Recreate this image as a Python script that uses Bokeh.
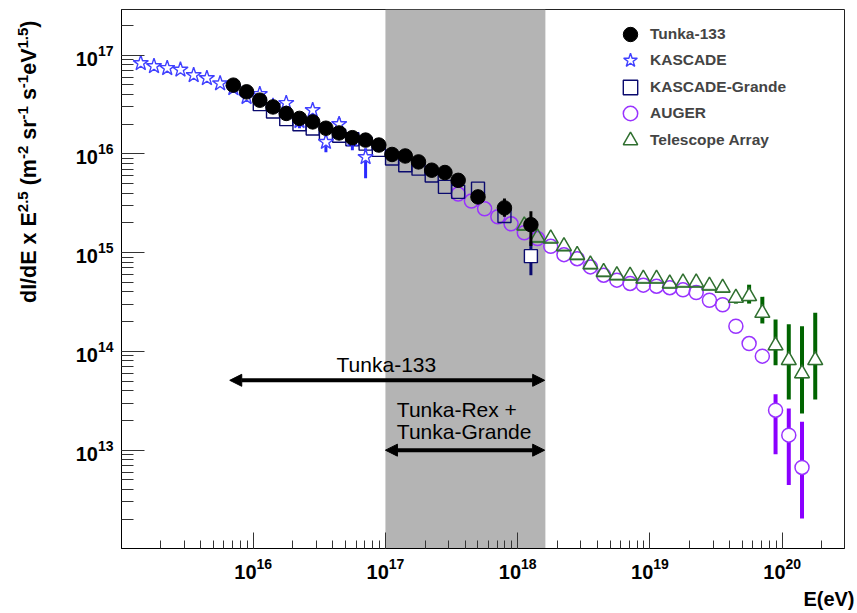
from bokeh.plotting import figure
from bokeh.models import (BoxAnnotation, Label, Arrow, NormalHead, Legend,
                          LegendItem, ColumnDataSource, LogTicker, Div, Title)
from bokeh.layouts import row
from bokeh.embed import file_html
from bokeh.resources import INLINE

# ---------------- data (log10 E in eV, flux dI/dE x E^2.5) ----------------
tunka_lgE = [15.85, 15.95, 16.05, 16.15, 16.25, 16.35, 16.45, 16.55, 16.65, 16.75,
             16.85, 16.95, 17.05, 17.15, 17.25, 17.35, 17.45, 17.55, 17.7, 17.9, 18.1]
tunka_I = [4.97e16, 4.25e16, 3.50e16, 2.99e16, 2.57e16, 2.29e16, 2.11e16, 1.82e16,
           1.63e16, 1.46e16, 1.38e16, 1.23e16, 9.87e15, 9.53e15, 8.30e15, 6.84e15,
           6.48e15, 5.40e15, 3.67e15, 2.84e15, 1.92e15]
tunka_err_lgE = [17.9, 18.1]
tunka_err_lo = [2.31e15, 1.17e15]
tunka_err_hi = [3.54e15, 2.63e15]

kas_lgE = [15.15, 15.25, 15.35, 15.45, 15.55, 15.65, 15.75, 15.85, 15.95, 16.05,
           16.15, 16.25, 16.35, 16.45, 16.55, 16.65, 16.75, 16.85]
kas_I = [8.30e16, 7.74e16, 7.39e16, 7.13e16, 6.27e16, 5.85e16, 5.17e16, 4.63e16,
         3.76e16, 4.03e16, 3.05e16, 3.27e16, 2.15e16, 2.77e16, 1.32e16, 2.00e16,
         1.40e16, 9.27e15]
kas_err_lgE = [16.35, 16.55, 16.65, 16.75, 16.85]
kas_err_lo = [1.82e16, 1.04e16, 1.75e16, 1.09e16, 5.68e15]
kas_err_hi = [2.40e16, 1.50e16, 2.30e16, 1.60e16, 1.14e16]

kg_lgE = [16.05, 16.15, 16.25, 16.35, 16.45, 16.55, 16.65, 16.75, 16.85, 16.95,
          17.05, 17.15, 17.25, 17.35, 17.45, 17.55, 17.7, 17.9, 18.1]
kg_I = [3.19e16, 2.69e16, 2.25e16, 2.00e16, 1.81e16, 1.59e16, 1.53e16, 1.41e16,
        1.27e16, 1.10e16, 9.00e15, 7.69e15, 7.09e15, 6.05e15, 4.64e15, 4.13e15,
        4.45e15, 2.35e15, 9.22e14]
kg_err_lgE = [18.1]
kg_err_lo = [5.91e14]
kg_err_hi = [1.28e15]

aug_lgE = [17.55, 17.65, 17.75, 17.85, 17.95, 18.05, 18.15, 18.25, 18.35, 18.45,
           18.55, 18.65, 18.75, 18.85, 18.95, 19.05, 19.15, 19.25, 19.35, 19.45,
           19.55, 19.65, 19.75, 19.85, 19.95, 20.05, 20.15]
aug_I = [3.92e15, 3.33e15, 2.78e15, 2.31e15, 1.96e15, 1.59e15, 1.39e15, 1.16e15,
         9.55e14, 8.69e14, 7.18e14, 5.92e14, 5.27e14, 4.88e14, 4.69e14, 4.58e14,
         4.42e14, 4.20e14, 3.95e14, 3.30e14, 2.97e14, 1.80e14, 1.20e14, 8.96e13,
         2.54e13, 1.42e13, 6.69e12]
aug_err_lgE = [19.95, 20.05, 20.15]
aug_err_lo = [9.1e12, 4.43e12, 2.03e12]
aug_err_hi = [3.69e13, 2.64e13, 1.94e13]

ta_lgE = [18.05, 18.15, 18.25, 18.35, 18.45, 18.55, 18.65, 18.75, 18.85, 18.95,
          19.05, 19.15, 19.25, 19.35, 19.45, 19.55, 19.65, 19.75, 19.85, 19.95,
          20.05, 20.15, 20.25]
ta_I = [1.88e15, 1.42e15, 1.39e15, 1.16e15, 9.44e14, 7.60e14, 6.36e14, 5.89e14,
        5.85e14, 5.45e14, 5.45e14, 4.86e14, 4.97e14, 4.97e14, 4.63e14, 4.40e14,
        3.49e14, 3.62e14, 2.45e14, 1.15e14, 8.15e13, 5.98e13, 8.15e13]
ta_err_lgE = [19.65, 19.75, 19.85, 19.95, 20.05, 20.15, 20.25]
ta_err_lo = [3.05e14, 3.05e14, 1.92e14, 7.26e13, 3.26e13, 2.35e13, 3.26e13]
ta_err_hi = [3.90e14, 4.74e14, 3.57e14, 2.11e14, 1.88e14, 1.80e14, 2.46e14]

# annotation extents (eV) and levels
band_E = [1.0e17, 1.62e18]
arrow133_E = [6.65e15, 1.6e18]
arrow133_y = 5.1e13
arrowRex_E = [1.0e17, 1.6e18]
arrowRex_y = 1.0e13

legend_labels = ["Tunka-133", "KASCADE", "KASCADE-Grande", "AUGER", "Telescope Array"]

FONT = "Liberation Sans"


def E(lg):
    return [10 ** v for v in lg]


def src(lg, I, err_lg):
    return ColumnDataSource(dict(x=E(lg), y=I,
                                 fa=[1.0 if v in err_lg else 0.0 for v in lg]))


def errsrc(lg, lo, hi):
    return ColumnDataSource(dict(x=E(lg), lo=lo, hi=hi))


p = figure(width=809, height=613, x_axis_type="log", y_axis_type="log",
           x_range=(1.01e15, 2.96e20), y_range=(1.01e12, 2.9e17),
           output_backend="svg", toolbar_location=None,
           min_border_left=73, min_border_right=13, min_border_top=9,
           min_border_bottom=64, margin=0)
p.grid.visible = False
p.outline_line_color = "#222222"
p.background_fill_color = "white"
p.border_fill_color = "white"

p.xaxis.ticker = LogTicker(desired_num_ticks=6, num_minor_ticks=10, mantissas=[1])
p.yaxis.ticker = LogTicker(desired_num_ticks=6, num_minor_ticks=10, mantissas=[1])
for ax in (p.xaxis[0], p.yaxis[0]):
    ax.major_label_text_font = FONT
    ax.major_label_text_font_style = "bold"
    ax.major_label_text_font_size = "20px"
    ax.major_label_text_color = "black"
    ax.major_tick_out = 0
    ax.minor_tick_out = 0
    ax.axis_line_color = "black"
    ax.major_tick_line_color = "#333333"
    ax.minor_tick_line_color = "#333333"
p.xaxis.major_tick_in = 16
p.xaxis.minor_tick_in = 8
p.yaxis.major_tick_in = 23
p.yaxis.minor_tick_in = 12
p.xaxis.major_label_standoff = 9
p.yaxis.major_label_standoff = 8

# gray band
p.add_layout(BoxAnnotation(left=band_E[0], right=band_E[1], fill_color="#b4b4b4",
                           fill_alpha=1.0, line_alpha=0, level="underlay"))

# ---- AUGER
s = errsrc(aug_err_lgE, aug_err_lo, aug_err_hi)
p.segment(x0="x", y0="lo", x1="x", y1="hi", source=s, line_color="#8a00ff", line_width=4)
r_aug = p.scatter("x", "y", source=src(aug_lgE, aug_I, aug_err_lgE), marker="circle",
                  size=14, line_color="#9933ff", line_width=1.5,
                  fill_color="white", fill_alpha="fa")

# ---- Telescope Array
p.segment(x0=[10 ** (v - 0.05) for v in ta_lgE], x1=[10 ** (v + 0.05) for v in ta_lgE],
          y0=[v * 0.91 for v in ta_I], y1=[v * 0.91 for v in ta_I],
          line_color="#2e7a2e", line_alpha=0.6, line_width=2)
s = errsrc(ta_err_lgE, ta_err_lo, ta_err_hi)
p.segment(x0="x", y0="lo", x1="x", y1="hi", source=s, line_color="#006400", line_width=4)
r_ta = p.scatter("x", "y", source=src(ta_lgE, ta_I, ta_err_lgE), marker="triangle",
                 size=15, line_color="#2f6f2f", line_width=1.5,
                 fill_color="white", fill_alpha="fa")

# ---- KASCADE-Grande
s = errsrc(kg_err_lgE, kg_err_lo, kg_err_hi)
p.segment(x0="x", y0="lo", x1="x", y1="hi", source=s, line_color="#0a0a6e", line_width=3)
r_kg = p.scatter("x", "y", source=src(kg_lgE, kg_I, kg_err_lgE), marker="square",
                 size=13, line_color="#0a0a6e", line_width=1.4,
                 fill_color="white", fill_alpha="fa")

# ---- KASCADE
s = errsrc(kas_err_lgE, kas_err_lo, kas_err_hi)
p.segment(x0="x", y0="lo", x1="x", y1="hi", source=s, line_color="#2a2aff", line_width=3)
r_kas = p.scatter("x", "y", source=src(kas_lgE, kas_I, kas_err_lgE), marker="star",
                  size=16, line_color="#4040ff", line_width=1.4,
                  fill_color="white", fill_alpha="fa")

# ---- Tunka-133
s = errsrc(tunka_err_lgE, tunka_err_lo, tunka_err_hi)
p.segment(x0="x", y0="lo", x1="x", y1="hi", source=s, line_color="black", line_width=3)
r_tunka = p.scatter(E(tunka_lgE), tunka_I, marker="circle", size=14.5,
                    line_color="black", fill_color="black")

# ---- arrows
for xs, yv in ((arrow133_E, arrow133_y), (arrowRex_E, arrowRex_y)):
    p.add_layout(Arrow(start=NormalHead(size=12, fill_color="black", line_color="black"),
                       end=NormalHead(size=12, fill_color="black", line_color="black"),
                       x_start=xs[0], x_end=xs[1], y_start=yv, y_end=yv,
                       line_width=4, line_color="black"))

for txt, xv, yv in (("Tunka-133", 4.27e16, 7.4e13),
                    ("Tunka-Rex +", 1.22e17, 2.6e13),
                    ("Tunka-Grande", 1.22e17, 1.55e13)):
    p.add_layout(Label(x=xv, y=yv, text=txt, text_font=FONT, text_font_size="21px",
                       text_align="left", text_baseline="alphabetic",
                       text_color="black"))

# ---- legend: one single-row legend per entry so rows can sit closer than the glyph box
row_centers = [35, 61.4, 87.8, 114.2, 140.6]
renderers = [r_tunka, r_kas, r_kg, r_aug, r_ta]
for lab, rend, yc in zip(legend_labels, renderers, row_centers):
    p.add_layout(Legend(items=[LegendItem(label=lab, renderers=[rend])],
                        location=(491, 549 - yc - 18), glyph_width=36, glyph_height=36,
                        label_standoff=2, padding=0, margin=0, spacing=0,
                        border_line_alpha=0, background_fill_alpha=0,
                        label_text_font=FONT, label_text_font_style="bold",
                        label_text_font_size="15.5px"))

# ---- x-axis title
p.add_layout(Title(text="E(eV)", align="right", text_font=FONT, text_font_size="20px",
                   text_font_style="bold", text_color="black", standoff=8,
                   offset=-10), "below")

# ---- y-axis title (HTML, rotated, with real superscripts)
sup = '<sup style="font-size:15px; line-height:0; vertical-align:8px;">{}</sup>'
ylab = ("dI/dE x E" + sup.format("2.5") + " (m" + sup.format("-2") + " sr"
        + sup.format("-1") + " s" + sup.format("-1") + "eV" + sup.format("1.5") + ")")
html = ('<div style="position:absolute; left:18px; top:303px; transform-origin:0 0; '
        'transform:rotate(-90deg); white-space:nowrap; font-family:\'Liberation Sans\', '
        'Arial, sans-serif; font-weight:bold; font-size:21.5px; line-height:22px; '
        'color:black;">' + ylab + '</div>')
ydiv = Div(text=html, width=48, height=613, margin=0)

layout = row(ydiv, p, margin=0, spacing=0)
open("out.html", "w").write(file_html(layout, INLINE))
